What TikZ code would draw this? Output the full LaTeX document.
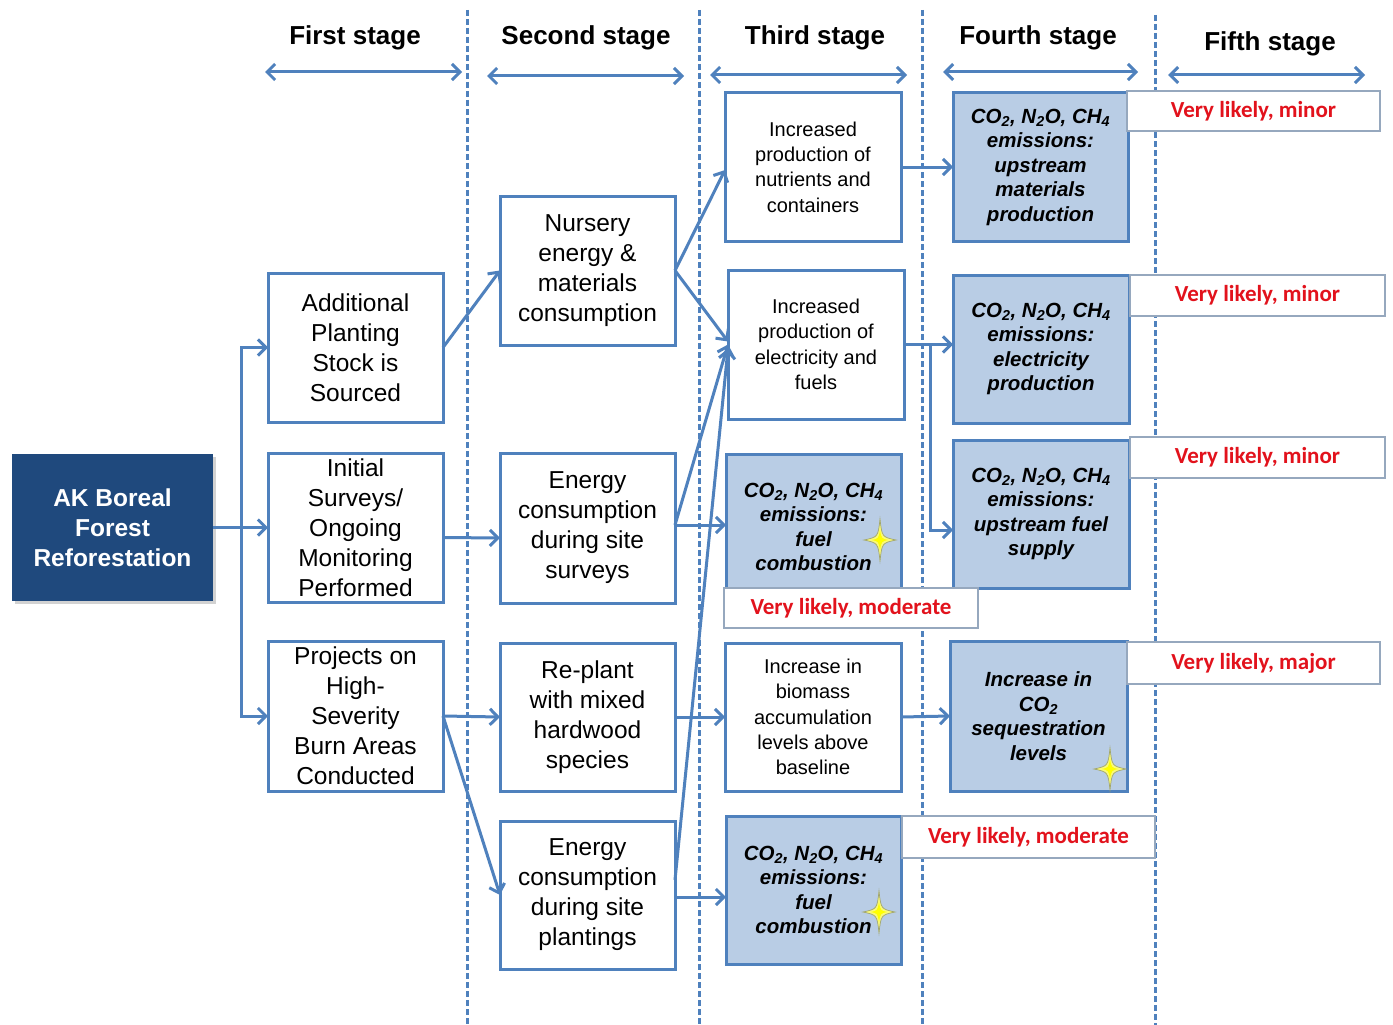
\documentclass[tikz,border=0pt]{standalone}
\usepackage{fontspec}
\setmainfont{Liberation Sans}
\newfontfamily\calib{Carlito}
\usetikzlibrary{arrows.meta,calc,shadows}
\definecolor{blu}{RGB}{79,129,189}
\definecolor{lblu}{RGB}{185,205,229}
\definecolor{dblu}{RGB}{31,73,125}
\definecolor{redt}{RGB}{226,18,28}
\definecolor{lgrey}{RGB}{150,168,190}
\definecolor{sparkcore}{RGB}{255,255,0}
\definecolor{sparkfill}{RGB}{250,250,120}
\definecolor{sparkedge}{RGB}{160,165,110}
\newcommand\sparkleat[2]{\filldraw[sparkle, shift={(#1,#2)}] (0,-21) .. controls (2,-3) .. (16,0) .. controls (2,3) .. (0,21) .. controls (-2,3) .. (-16,0) .. controls (-2,-3) .. cycle;
 \fill[sparkcore, shift={(#1,#2)}] (0,-10) .. controls (1.5,-1.5) .. (8,0) .. controls (1.5,1.5) .. (0,10) .. controls (-1.5,1.5) .. (-8,0) .. controls (-1.5,-1.5) .. cycle;}
\newcommand\cotext{CO\textsubscript{2}, N\textsubscript{2}O, CH\textsubscript{4}}
\begin{document}
\begin{tikzpicture}[x=1pt,y=-1pt,
 every node/.style={inner sep=0pt, outer sep=0pt},
 wbox/.style={draw=blu, line width=3pt, fill=white, align=center, font=\fontsize{24.5}{30}\selectfont},
 tbox/.style={draw=blu, line width=3pt, fill=white, align=center, font=\fontsize{20}{25.4}\selectfont},
 ebox/.style={draw=blu, line width=3pt, fill=lblu, align=center, font=\fontsize{20.5}{24.5}\selectfont\bfseries\itshape},
 lab/.style={draw=lgrey, line width=1.2pt, fill=white, text=redt, font=\calib\fontsize{23}{26}\selectfont\bfseries},
 hdr/.style={font=\fontsize{26}{30}\selectfont\bfseries},
 arr/.style={draw=blu, line width=3pt, -{Straight Barb[length=8pt,width=16pt]}},
 harr/.style={draw=blu, line width=3pt, {Straight Barb[length=8pt,width=16pt]}-{Straight Barb[length=8pt,width=16pt]}},
 vdash/.style={draw=blu, line width=3pt, dash pattern=on 6pt off 3pt},
 sparkle/.style={fill=sparkfill, draw=sparkedge, line width=0.7pt}
]
\useasboundingbox (0,0) rectangle (1393,1025);
\fill[white] (0,0) rectangle (1393,1025);

% stage separators
\draw[vdash] (467,10) -- (467,1025);
\draw[vdash] (699,10) -- (699,1025);
\draw[vdash] (922,10) -- (922,1025);
\draw[vdash] (1155,15) -- (1155,1025);

% headers
\node[hdr] (h1) at (355,38) {First stage};
\node[hdr] (h2) at (586,38) {Second stage};
\node[hdr] (h3) at (815,38) {Third stage};
\node[hdr] (h4) at (1038,38) {Fourth stage};
\node[hdr] (h5) at (1270,44) {Fifth stage};
\draw[harr] (265,72) -- (462,72);
\draw[harr] (487,76) -- (684,76);
\draw[harr] (710,75) -- (907,75);
\draw[harr] (943,72) -- (1138,72);
\draw[harr] (1168,75) -- (1365,75);

% boxes
\node[draw=none, fill=dblu, text=white, align=center, font=\fontsize{24.5}{30}\selectfont\bfseries,
  minimum width=201, minimum height=147, drop shadow={shadow xshift=3pt, shadow yshift=-3pt, opacity=0.35}]
  (ak) at (112.5,527.5) {AK Boreal\\Forest\\Reforestation};

\node[wbox, minimum width=175, minimum height=149] (add) at (355.5,347.5) {Additional\\Planting\\Stock is\\Sourced};
\node[wbox, minimum width=175, minimum height=149] (init) at (355.5,527.5) {Initial\\Surveys/\\Ongoing\\Monitoring\\Performed};
\node[wbox, minimum width=175, minimum height=150] (proj) at (355.5,716) {Projects on\\High-\\Severity\\Burn Areas\\Conducted};

\node[wbox, minimum width=175, minimum height=149] (nurs) at (587.5,270.5) {Nursery\\energy \&\\materials\\consumption};
\node[wbox, minimum width=175, minimum height=150] (esurv) at (587.5,528) {Energy\\consumption\\during site\\surveys};
\node[wbox, minimum width=175, minimum height=148] (repl) at (587.5,717) {Re-plant\\with mixed\\hardwood\\species};
\node[wbox, minimum width=175, minimum height=148] (eplant) at (587.5,895) {Energy\\consumption\\during site\\plantings};

\node[tbox, minimum width=176, minimum height=148] (nutr) at (813,167) {Increased\\production of\\nutrients and\\containers};
\node[tbox, minimum width=176, minimum height=149] (elec) at (816,344.5) {Increased\\production of\\electricity and\\fuels};
\node[ebox, minimum width=175, minimum height=146] (fc1) at (813.5,527) {\cotext\\emissions:\\fuel\\combustion};
\node[tbox, minimum width=176, minimum height=148] (bio) at (813,717) {Increase in\\biomass\\accumulation\\levels above\\baseline};
\node[ebox, minimum width=175, minimum height=148] (fc2) at (813.5,890) {\cotext\\emissions:\\fuel\\combustion};

\node[ebox, minimum width=175, minimum height=148] (upm) at (1040.5,167) {\cotext\\emissions:\\upstream\\materials\\production};
\node[ebox, minimum width=176, minimum height=148] (elp) at (1041,349) {\cotext\\emissions:\\electricity\\production};
\node[ebox, minimum width=176, minimum height=148] (ufs) at (1041,514) {\cotext\\emissions:\\upstream fuel\\supply};
\node[ebox, minimum width=177, minimum height=150] (seq) at (1038.5,716) {Increase in\\CO\textsubscript{2}\\sequestration\\levels};

% connectors
\coordinate (sp) at (241,527.5);
\draw[arr] (ak.east) -- (init.west);
\draw[arr] (sp) |- (add.west);
\draw[arr] (sp) |- (proj.west);
\draw[arr] (add.east) -- (nurs.west);
\draw[arr] ($(init.east)+(0,10)$) -- ($(esurv.west)+(0,10)$);
\draw[arr] (proj.east) -- (repl.west);
\draw[arr] (proj.east) -- (eplant.west);
\draw[arr] (nurs.east) -- ($(nutr.west)+(0,3)$);
\draw[arr] (nurs.east) -- ($(elec.west)+(0,-3)$);
\draw[arr] ($(esurv.east)+(0,-3)$) -- (elec.west);
\draw[arr] ($(esurv.east)+(0,-3)$) -- ($(fc1.west)+(0,-2)$);
\draw[arr] (repl.east) -- (bio.west);
\draw[arr] ($(eplant.east)+(0,-15)$) -- ($(elec.west)+(0,4)$);
\draw[arr] ($(eplant.east)+(0,2)$) -- ($(fc2.west)+(0,7)$);
\draw[arr] (nutr.east) -- (upm.west);
\draw[arr] (elec.east) -- (elec.east -| elp.west);
\draw[arr] (elec.east) -- ++(26,0) |- ($(ufs.west)+(0,16)$);
\draw[arr] (bio.east) -- (seq.west);

% sparkles
\sparkleat{880}{540}
\sparkleat{1110}{769}
\sparkleat{879}{912}

% likelihood labels
\node[lab, minimum width=253, minimum height=40] (l1) at (1253.5,111) {Very likely, minor};
\node[lab, minimum width=255, minimum height=41] (l2) at (1257.5,295.5) {Very likely, minor};
\node[lab, minimum width=255, minimum height=41] (l3) at (1257.5,457.5) {Very likely, minor};
\node[lab, minimum width=253, minimum height=42] (l4) at (1253.5,663) {Very likely, major};
\node[lab, minimum width=254, minimum height=40] (l5) at (851,608) {Very likely, moderate};
\node[lab, minimum width=253, minimum height=42] (l6) at (1028.5,837) {Very likely, moderate};
\end{tikzpicture}
\end{document}
